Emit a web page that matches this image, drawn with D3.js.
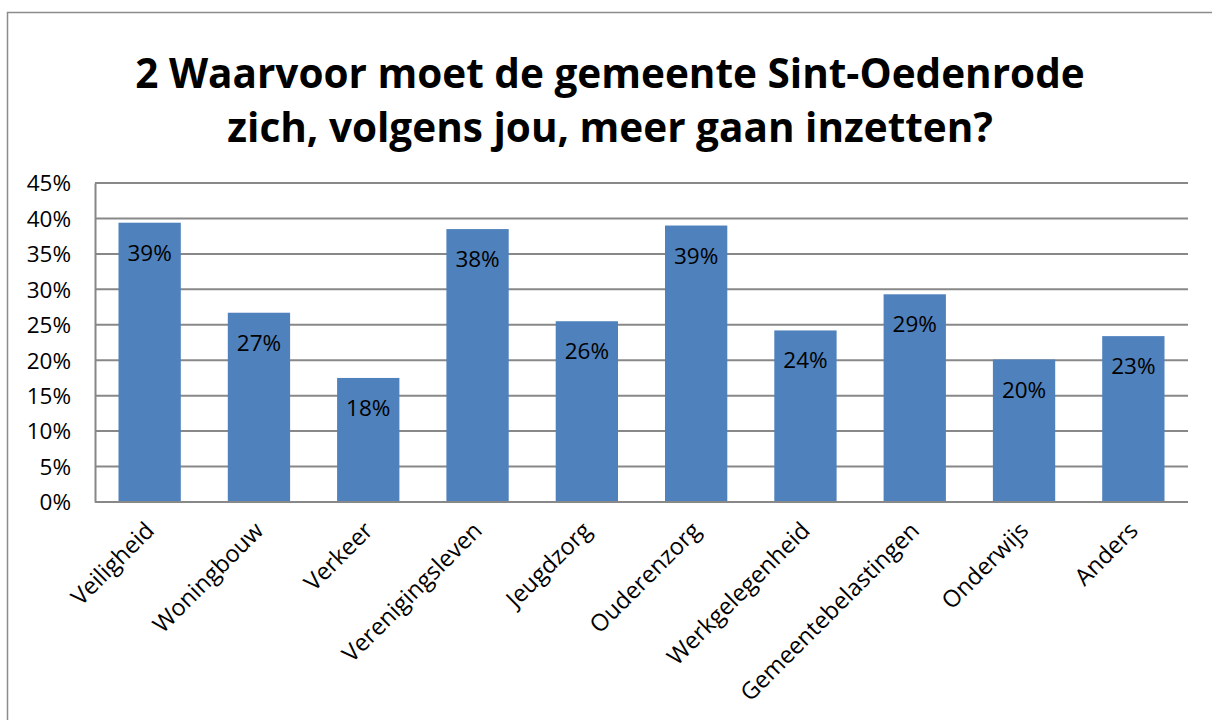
<!DOCTYPE html>
<html>
<head>
<meta charset="utf-8">
<script src="https://cdn.jsdelivr.net/npm/d3@7"></script>
<style>
  body { margin: 0; background: #fff; }
  svg text { font-family: "Open Sans", "Noto Sans", sans-serif; fill: #000; }
</style>
</head>
<body>
<div id="chart"></div>
<script>
// Data
var categories = ["Veiligheid", "Woningbouw", "Verkeer", "Verenigingsleven", "Jeugdzorg",
                  "Ouderenzorg", "Werkgelegenheid", "Gemeentebelastingen", "Onderwijs", "Anders"];
var values = [39.4, 26.7, 17.5, 38.5, 25.5, 39.0, 24.2, 29.3, 20.1, 23.4];
var valueLabels = ["39%", "27%", "18%", "38%", "26%", "39%", "24%", "29%", "20%", "23%"];
var yTicks = [0, 5, 10, 15, 20, 25, 30, 35, 40, 45];
var titleLines = ["2 Waarvoor moet de gemeente Sint-Oedenrode", "zich, volgens jou, meer gaan inzetten?"];

var W = 1212, H = 720;
var margin = {top: 183, right: 24, bottom: 218, left: 95};
var width = W - margin.left - margin.right,
    height = H - margin.top - margin.bottom;

var svg = d3.select("#chart").append("svg")
    .attr("width", W).attr("height", H);

// outer chart frame (runs off the right and bottom edges)
svg.append("rect")
    .attr("x", 7.5).attr("y", 12.5)
    .attr("width", W + 20).attr("height", H + 20)
    .attr("fill", "none").attr("stroke", "#8c8c8c").attr("stroke-width", 1.5);

// title
svg.append("g").selectAll("text")
    .data(titleLines).enter().append("text")
    .attr("x", 610)
    .attr("y", function (d, i) { return 88 + i * 54; })
    .attr("text-anchor", "middle")
    .style("font-size", "40.5px")
    .style("font-weight", "bold")
    .text(function (d) { return d; });

var g = svg.append("g").attr("transform", "translate(" + margin.left + "," + margin.top + ")");

var x = d3.scaleBand().domain(categories).range([0, width]).paddingInner(0.43).paddingOuter(0.215);
var y = d3.scaleLinear().domain([0, 45]).range([height, 0]);

// gridlines
g.append("g").selectAll("line")
    .data(yTicks).enter().append("line")
    .attr("x1", 0).attr("x2", width)
    .attr("y1", function (d) { return y(d); })
    .attr("y2", function (d) { return y(d); })
    .attr("stroke", "#888").attr("stroke-width", 2);

// bars
g.append("g").selectAll("rect")
    .data(values).enter().append("rect")
    .attr("x", function (d, i) { return x(categories[i]); })
    .attr("y", function (d) { return y(d); })
    .attr("width", x.bandwidth())
    .attr("height", function (d) { return height - y(d); })
    .attr("fill", "#4F81BD");

// value labels inside bar tops
g.append("g").selectAll("text")
    .data(values).enter().append("text")
    .attr("x", function (d, i) { return x(categories[i]) + x.bandwidth() / 2; })
    .attr("y", function (d) { return y(d) + 38; })
    .attr("text-anchor", "middle")
    .style("font-size", "22.5px")
    .text(function (d, i) { return valueLabels[i]; });

// y axis
var yAxis = d3.axisLeft(y).tickValues(yTicks).tickSize(0).tickPadding(24)
    .tickFormat(function (d) { return d + "%"; });
var ya = g.append("g").call(yAxis);
ya.select(".domain").attr("stroke", "#888").attr("stroke-width", 2);
ya.selectAll("text").style("font-size", "22.5px").attr("dy", "0.35em");

// x axis line
g.append("line").attr("x1", 0).attr("x2", width).attr("y1", height).attr("y2", height)
    .attr("stroke", "#888").attr("stroke-width", 2);

// category labels, rotated
g.append("g").selectAll("text")
    .data(categories).enter().append("text")
    .attr("transform", function (d) {
        return "translate(" + (x(d) + x.bandwidth() / 2 + 6) + "," + (height + 30) + ") rotate(-45)";
    })
    .attr("text-anchor", "end")
    .style("font-size", "23.5px")
    .text(function (d) { return d; });
</script>
</body>
</html>
